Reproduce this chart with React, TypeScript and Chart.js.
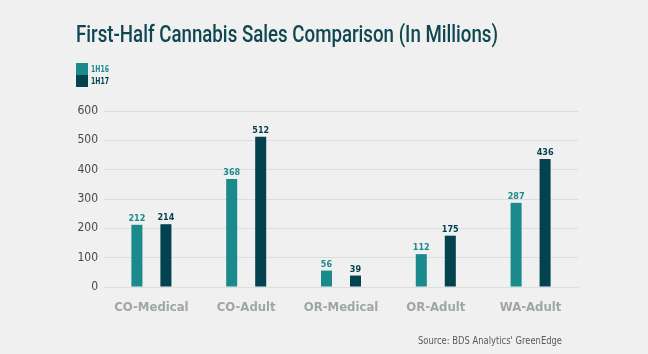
import React, { useEffect, useRef } from "react";
import { Chart, registerables } from "chart.js";

Chart.register(...registerables);

const categories = ["CO-Medical", "CO-Adult", "OR-Medical", "OR-Adult", "WA-Adult"];
const series1H16 = [212, 368, 56, 112, 287];
const series1H17 = [214, 512, 39, 175, 436];
const seriesNames = ["1H16", "1H17"];
const yTicks = [0, 100, 200, 300, 400, 500, 600];
const titleText = "First-Half Cannabis Sales Comparison (In Millions)";
const sourceText = "Source: BDS Analytics' GreenEdge";

const TEAL = "#1b8a8c";
const DARK = "#02434f";
const FONT = "'DejaVu Sans Condensed', 'DejaVu Sans', sans-serif";
const TITLE_FONT = "Roboto, 'DejaVu Sans', sans-serif";

function fitText(ctx: any, text: string, x: number, y: number, width: number) {
  const w = ctx.measureText(text).width;
  const k = Math.min(1, width / w);
  ctx.save();
  ctx.translate(x, y);
  ctx.scale(k, 1);
  ctx.textAlign = "left";
  ctx.fillText(text, 0, 0);
  ctx.restore();
}

const decorPlugin = {
  id: "decor",
  afterDraw(chart: any) {
    const ctx = chart.ctx;
    ctx.save();
    // title
    ctx.fillStyle = "#0e4651";
    ctx.font = `500 23px ${TITLE_FONT}`;
    ctx.textBaseline = "alphabetic";
    fitText(ctx, titleText, 76, 42, 422);
    // legend
    chart.data.datasets.forEach((ds: any, i: number) => {
      const y = 63 + i * 12;
      ctx.fillStyle = ds.backgroundColor;
      ctx.fillRect(76, y, 12, 12);
      ctx.font = `bold 8.5px ${FONT}`;
      ctx.textBaseline = "middle";
      fitText(ctx, ds.label, 91, y + 6.5, 18);
    });
    // data labels
    chart.data.datasets.forEach((ds: any, i: number) => {
      const meta = chart.getDatasetMeta(i);
      meta.data.forEach((bar: any, j: number) => {
        ctx.fillStyle = ds.backgroundColor;
        ctx.font = `bold 9px ${FONT}`;
        ctx.textAlign = "center";
        ctx.textBaseline = "alphabetic";
        ctx.fillText(String(ds.data[j]), bar.x, bar.y - 4);
      });
    });
    // source
    ctx.fillStyle = "#555b5c";
    ctx.font = `11px ${FONT}`;
    ctx.textBaseline = "middle";
    fitText(ctx, sourceText, 418, 341, 144);
    ctx.restore();
  },
};

export default function App() {
  const ref = useRef<HTMLCanvasElement>(null);
  useEffect(() => {
    const chart = new Chart(ref.current!, {
      type: "bar",
      data: {
        labels: categories,
        datasets: [
          { label: seriesNames[0], data: series1H16, backgroundColor: TEAL },
          { label: seriesNames[1], data: series1H17, backgroundColor: DARK },
        ],
      },
      options: {
        animation: false,
        responsive: false,
        maintainAspectRatio: false,
        layout: { padding: { top: 111, right: 70, left: 0, bottom: 0 } },
        datasets: { bar: { categoryPercentage: 0.612, barPercentage: 0.38 } },
        plugins: { legend: { display: false }, tooltip: { enabled: false } },
        scales: {
          x: {
            grid: { display: false },
            border: { display: true, color: "#dcdfe0" },
            ticks: {
              color: "#9ea6a8",
              font: { family: FONT, size: 13, weight: "bold" },
              padding: 5,
              minRotation: 0,
              maxRotation: 0,
              autoSkip: false,
            },
            afterFit: (s: any) => {
              s.height = 67;
            },
          },
          y: {
            min: 0,
            max: 600,
            afterBuildTicks: (s: any) => {
              s.ticks = yTicks.map((v) => ({ value: v }));
            },
            grid: { color: "#dadede", drawTicks: false },
            border: { display: false },
            ticks: {
              color: "#444a4c",
              font: { family: FONT, size: 12 },
              padding: 6,
            },
            afterFit: (s: any) => {
              s.width = 104;
            },
          },
        },
      },
      plugins: [decorPlugin],
    });
    return () => chart.destroy();
  }, []);
  return (
    <div style={{ position: "fixed", left: 0, top: 0, width: 648, height: 354, background: "#f0f0f0" }}>
      <canvas ref={ref} width={648} height={354} />
    </div>
  );
}
